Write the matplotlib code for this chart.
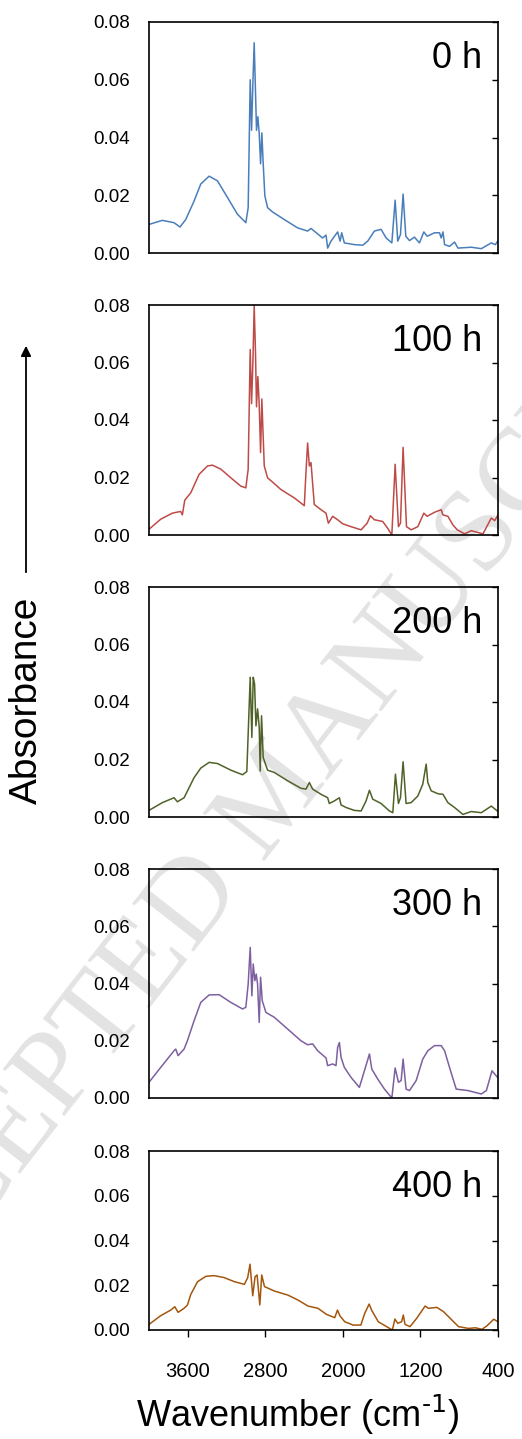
import matplotlib
matplotlib.use("Agg")
from matplotlib import pyplot as plt

plt.rcParams['font.family'] = ['Liberation Sans', 'DejaVu Sans']
plt.rcParams['mathtext.default'] = 'regular'

# spectra (wavenumber in cm-1, absorbance)
wn_0h = [4000, 3862, 3742, 3680, 3621, 3535, 3466, 3380, 3294, 3190, 3087, 3001, 2977, 2956, 2942,
         2928, 2915, 2901, 2891, 2877, 2863, 2849, 2836, 2822, 2805, 2777, 2725, 2605, 2467, 2364,
         2329, 2260, 2209, 2174, 2157, 2123, 2054, 2029, 2012, 1985, 1881, 1795, 1744, 1675, 1606,
         1554, 1495, 1461, 1434, 1406, 1379, 1351, 1313, 1262, 1210, 1165, 1131, 1055, 1003, 986,
         968, 951, 900, 848, 813, 676, 572, 469, 427, 400]
abs_0h = [0.0099, 0.0113, 0.0105, 0.0090, 0.0116, 0.0180, 0.0239, 0.0266, 0.0250, 0.0192, 0.0134, 0.0105, 0.0157, 0.0600, 0.0425,
          0.0594, 0.0728, 0.0553, 0.0425, 0.0472, 0.0413, 0.0309, 0.0416, 0.0309, 0.0198, 0.0157, 0.0142, 0.0116, 0.0087, 0.0076,
          0.0085, 0.0066, 0.0052, 0.0062, 0.0017, 0.0041, 0.0073, 0.0041, 0.0070, 0.0035, 0.0029, 0.0027, 0.0041, 0.0076, 0.0082,
          0.0052, 0.0035, 0.0183, 0.0041, 0.0064, 0.0204, 0.0058, 0.0043, 0.0055, 0.0035, 0.0073, 0.0058, 0.0070, 0.0070, 0.0052,
          0.0073, 0.0029, 0.0023, 0.0038, 0.0017, 0.0020, 0.0015, 0.0035, 0.0029, 0.0043]

wn_100h = [4000, 3879, 3759, 3673, 3656, 3631, 3569, 3483, 3397, 3345, 3259, 3156, 3053, 3001, 2977,
           2956, 2942, 2928, 2915, 2901, 2891, 2877, 2863, 2849, 2836, 2825, 2811, 2777, 2725, 2639,
           2501, 2398, 2381, 2364, 2346, 2329, 2295, 2226, 2174, 2150, 2105, 2054, 2002, 1916, 1812,
           1750, 1716, 1675, 1589, 1537, 1495, 1461, 1427, 1406, 1379, 1344, 1296, 1227, 1165, 1131,
           1055, 986, 968, 917, 865, 820, 745, 676, 555, 469, 434, 400]
abs_100h = [0.0020, 0.0055, 0.0076, 0.0082, 0.0070, 0.0121, 0.0147, 0.0211, 0.0240, 0.0243, 0.0229, 0.0199, 0.0170, 0.0164, 0.0229,
            0.0645, 0.0457, 0.0604, 0.0798, 0.0628, 0.0446, 0.0551, 0.0452, 0.0287, 0.0473, 0.0369, 0.0240, 0.0199, 0.0184, 0.0158,
            0.0129, 0.0102, 0.0217, 0.0320, 0.0240, 0.0252, 0.0106, 0.0088, 0.0076, 0.0041, 0.0065, 0.0053, 0.0039, 0.0029, 0.0018,
            0.0041, 0.0067, 0.0053, 0.0047, 0.0023, 0.0000, 0.0246, 0.0029, 0.0041, 0.0305, 0.0029, 0.0018, 0.0029, 0.0076, 0.0065,
            0.0079, 0.0088, 0.0070, 0.0065, 0.0035, 0.0018, 0.0004, 0.0015, 0.0004, 0.0059, 0.0050, 0.0070]

wn_200h = [4000, 3862, 3742, 3707, 3638, 3535, 3466, 3380, 3294, 3156, 3035, 2991, 2956, 2939, 2925,
           2911, 2897, 2880, 2863, 2853, 2839, 2822, 2777, 2708, 2570, 2433, 2381, 2346, 2312, 2226,
           2157, 2140, 2088, 2036, 2019, 1967, 1881, 1812, 1761, 1726, 1692, 1606, 1520, 1485, 1458,
           1427, 1406, 1379, 1348, 1296, 1227, 1176, 1141, 1124, 1089, 1020, 968, 917, 848, 762,
           676, 572, 469, 400]
abs_200h = [0.0023, 0.0050, 0.0067, 0.0053, 0.0067, 0.0137, 0.0170, 0.0190, 0.0186, 0.0163, 0.0147, 0.0158, 0.0486, 0.0277, 0.0486,
            0.0463, 0.0317, 0.0376, 0.0312, 0.0160, 0.0352, 0.0207, 0.0163, 0.0155, 0.0126, 0.0100, 0.0097, 0.0120, 0.0097, 0.0079,
            0.0067, 0.0047, 0.0056, 0.0067, 0.0042, 0.0033, 0.0023, 0.0021, 0.0056, 0.0093, 0.0062, 0.0047, 0.0021, 0.0015, 0.0149,
            0.0047, 0.0067, 0.0192, 0.0047, 0.0050, 0.0073, 0.0114, 0.0184, 0.0120, 0.0091, 0.0081, 0.0079, 0.0050, 0.0033, 0.0009,
            0.0019, 0.0015, 0.0038, 0.0019]

wn_300h = [4000, 3879, 3742, 3724, 3700, 3638, 3604, 3535, 3466, 3380, 3277, 3156, 3035, 3001, 2977,
           2956, 2939, 2925, 2908, 2894, 2880, 2863, 2849, 2832, 2794, 2708, 2570, 2433, 2364, 2312,
           2260, 2174, 2157, 2105, 2071, 2054, 2036, 2019, 1985, 1916, 1830, 1778, 1726, 1702, 1640,
           1571, 1495, 1461, 1427, 1399, 1379, 1348, 1313, 1244, 1176, 1124, 1055, 986, 951, 900,
           831, 710, 641, 572, 520, 462, 400]
abs_300h = [0.0055, 0.0107, 0.0165, 0.0171, 0.0148, 0.0171, 0.0200, 0.0270, 0.0334, 0.0360, 0.0361, 0.0334, 0.0311, 0.0317, 0.0398,
            0.0526, 0.0357, 0.0468, 0.0410, 0.0433, 0.0398, 0.0264, 0.0422, 0.0340, 0.0299, 0.0282, 0.0241, 0.0200, 0.0186, 0.0189,
            0.0165, 0.0140, 0.0113, 0.0119, 0.0113, 0.0177, 0.0194, 0.0142, 0.0107, 0.0072, 0.0037, 0.0095, 0.0154, 0.0101, 0.0066,
            0.0031, 0.0000, 0.0105, 0.0055, 0.0061, 0.0136, 0.0031, 0.0026, 0.0061, 0.0136, 0.0165, 0.0183, 0.0183, 0.0165, 0.0107,
            0.0031, 0.0026, 0.0020, 0.0014, 0.0026, 0.0095, 0.0070]

wn_400h = [4000, 3879, 3776, 3734, 3700, 3638, 3603, 3569, 3499, 3413, 3327, 3223, 3120, 3016, 2982,
           2958, 2930, 2906, 2885, 2857, 2837, 2809, 2706, 2567, 2464, 2360, 2257, 2170, 2084, 2056,
           2032, 1981, 1894, 1815, 1774, 1729, 1704, 1635, 1549, 1490, 1463, 1435, 1394, 1377, 1359,
           1308, 1239, 1152, 1118, 1031, 962, 893, 807, 703, 634, 565, 513, 444, 400]
abs_400h = [0.0025, 0.0064, 0.0089, 0.0104, 0.0079, 0.0097, 0.0112, 0.0159, 0.0216, 0.0240, 0.0243, 0.0234, 0.0216, 0.0204, 0.0234,
            0.0294, 0.0153, 0.0238, 0.0246, 0.0112, 0.0246, 0.0194, 0.0174, 0.0156, 0.0134, 0.0107, 0.0097, 0.0070, 0.0055, 0.0089,
            0.0064, 0.0037, 0.0022, 0.0022, 0.0075, 0.0116, 0.0089, 0.0037, 0.0015, 0.0000, 0.0049, 0.0030, 0.0037, 0.0067, 0.0025,
            0.0015, 0.0052, 0.0107, 0.0097, 0.0101, 0.0082, 0.0052, 0.0015, 0.0007, 0.0010, 0.0003, 0.0019, 0.0048, 0.0037]

labels = ["0 h", "100 h", "200 h", "300 h", "400 h"]
yticks = [0.00, 0.02, 0.04, 0.06, 0.08]
xticks = [3600, 2800, 2000, 1200, 400]

spectra = [(wn_0h, abs_0h), (wn_100h, abs_100h), (wn_200h, abs_200h),
           (wn_300h, abs_300h), (wn_400h, abs_400h)]
colors = ["#4a7ebb", "#be4b48", "#4f6228", "#7d60a0", "#a4560e"]

W, H = 522, 1439
fig = plt.figure(figsize=(W / 100, H / 100), dpi=100)

# panel top / bottom in pixels
tops = [22, 305, 587, 869, 1151]
bottoms = [253, 535, 817, 1098, 1330]
left, right = 149, 498

# faint journal watermark behind the panels
fig.text(278 / W, 1 - 798 / H, "ACCEPTED MANUSCRIPT", rotation=52, fontsize=85,
         family=['Liberation Serif', 'DejaVu Serif'], color="#e3e3e3",
         ha="center", va="center", zorder=-1)

for i, (wn, ab) in enumerate(spectra):
    ax = fig.add_axes([left / W, 1 - bottoms[i] / H, (right - left) / W, (bottoms[i] - tops[i]) / H])
    ax.set_facecolor("none")
    ax.plot(wn, ab, color=colors[i], lw=1.1)
    ax.set_xlim(4000, 400)
    ax.set_ylim(0, 0.08)
    ax.set_yticks(yticks)
    ax.set_yticklabels([f"{v:.2f}" for v in yticks])
    ax.tick_params(axis="y", left=False, right=True, labelleft=True, direction="in",
                   length=4, width=1, pad=14, labelsize=13.5)
    for s in ax.spines.values():
        s.set_linewidth(1.2)
    if i == len(spectra) - 1:
        ax.set_xticks(xticks)
        ax.set_xticklabels([str(v) for v in xticks])
        ax.tick_params(axis="x", direction="out", length=5, width=1, pad=18, labelsize=14.5)
    else:
        ax.set_xticks([])
    ax.annotate(labels[i], xy=(0.955, 1), xycoords="axes fraction", xytext=(0, -33),
                textcoords="offset points", ha="right", va="baseline", fontsize=26)

fig.text(298 / W, 1 - 1427 / H, r"Wavenumber (cm$^{\text{-1}}$)", ha="center", va="baseline", fontsize=26)
fig.text(27 / W, 1 - 700 / H, "Absorbance", rotation=90, ha="center", va="center", fontsize=28)
fig.add_artist(matplotlib.patches.FancyArrowPatch((26 / W, 1 - 575 / H), (26 / W, 1 - 343 / H),
                                                  transform=fig.transFigure, arrowstyle="-|>",
                                                  mutation_scale=15, lw=1.3, color="black"))

fig.savefig("out.png", dpi=100)
